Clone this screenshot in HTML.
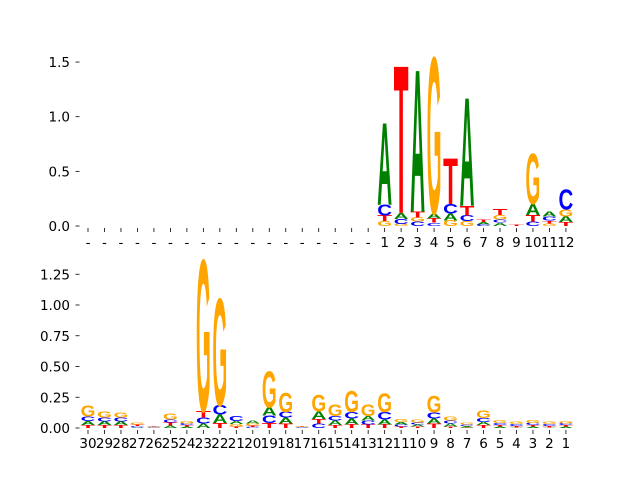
<!DOCTYPE html>
<html><head><meta charset="utf-8"><style>
html,body{margin:0;padding:0;background:#fff}
svg{display:block}
text{font-family:"DejaVu Sans","Liberation Sans",sans-serif}
.tick{font-size:13.5px;fill:#000}
.letter{font-family:"Liberation Sans","DejaVu Sans",sans-serif}
</style></head><body>
<svg id="chart" width="640" height="480" viewBox="0 0 640 480" xmlns="http://www.w3.org/2000/svg">
<g id="top"></g>
<g id="bot"></g>
</svg>
<script>
// Top panel data (positions index 0..29; last 12 labelled 1..12)
const topLabels = ["-","-","-","-","-","-","-","-","-","-","-","-","-","-","-","-","-","-","1","2","3","4","5","6","7","8","9","10","11","12"];
const topA = [0,0,0,0,0,0,0,0,0,0,0,0,0,0,0,0,0,0,0.75,0.055,1.3,0.045,0.065,0.99,0.02,0.03,0,0.1,0.045,0.05];
const topC = [0,0,0,0,0,0,0,0,0,0,0,0,0,0,0,0,0,0,0.1,0.045,0.04,0.03,0.085,0.05,0.015,0.03,0,0.04,0.035,0.18];
const topG = [0,0,0,0,0,0,0,0,0,0,0,0,0,0,0,0,0,0,0.045,0.02,0.04,1.43,0.05,0.045,0,0.04,0,0.46,0.025,0.065];
const topT = [0,0,0,0,0,0,0,0,0,0,0,0,0,0,0,0,0,0,0.05,1.35,0.05,0.04,0.42,0.09,0.02,0.055,0.01,0.06,0.025,0.035];
const topTicks = [0,0.5,1.0,1.5];
const topTickLabels = ["0.0","0.5","1.0","1.5"];
// Bottom panel data (labels 30..1)
const botLabels = ["30","29","28","27","26","25","24","23","22","21","20","19","18","17","16","15","14","13","12","11","10","9","8","7","6","5","4","3","2","1"];
const botA = [0.032,0.03,0.03,0.005,0.006,0.02,0.012,0.036,0.066,0.024,0.024,0.066,0.048,0.004,0.062,0.036,0.048,0.036,0.04,0.019,0.016,0.04,0.024,0.012,0.026,0.012,0.006,0.012,0.006,0.012];
const botC = [0.036,0.03,0.03,0.012,0.004,0.026,0.014,0.048,0.076,0.042,0.01,0.06,0.048,0.004,0.036,0.036,0.054,0.032,0.06,0.016,0.016,0.048,0.024,0.012,0.032,0.016,0.014,0.018,0.014,0.014];
const botG = [0.086,0.048,0.042,0.014,0.004,0.048,0.018,1.23,0.87,0.022,0.014,0.294,0.156,0.004,0.136,0.096,0.174,0.096,0.15,0.024,0.024,0.136,0.032,0.014,0.06,0.024,0.018,0.024,0.018,0.018];
const botT = [0.024,0.024,0.024,0.012,0.004,0.024,0.012,0.054,0.042,0.012,0.012,0.042,0.036,0.004,0.036,0.024,0.03,0.03,0.03,0.012,0.012,0.036,0.012,0.005,0.024,0.012,0.012,0.012,0.012,0.012];
const botTicks = [0,0.25,0.5,0.75,1.0,1.25];
const botTickLabels = ["0.00","0.25","0.50","0.75","1.00","1.25"];

const NS = "http://www.w3.org/2000/svg";
const colors = {A:"#008000",C:"#0000ff",G:"#ffa500",T:"#ff0000"};
const X0 = 88, DX = 16.48, LW = 14.8, CAP = 69.5;

function drawPanel(g, base, pxPerUnit, labels, A, C, G, T, ticks, tickLabels, labelY) {
  const xs = i => X0 + i * DX;
  const ys = v => base - v * pxPerUnit;
  ticks.forEach((t, k) => {
    const y = ys(t);
    const ln = document.createElementNS(NS, "line");
    ln.setAttribute("x1", 75.5); ln.setAttribute("x2", 79.5);
    ln.setAttribute("y1", y); ln.setAttribute("y2", y);
    ln.setAttribute("stroke", "#000"); ln.setAttribute("stroke-width", "0.8");
    
    
    g.appendChild(ln);
    const tx = document.createElementNS(NS, "text");
    tx.setAttribute("x", 70); tx.setAttribute("y", y + 5);
    tx.setAttribute("text-anchor", "end"); tx.setAttribute("class", "tick");
    tx.textContent = tickLabels[k];
    
    
    g.appendChild(tx);
  });
  labels.forEach((lab, i) => {
    const x = xs(i);
    const ln = document.createElementNS(NS, "line");
    ln.setAttribute("x1", x); ln.setAttribute("x2", x);
    ln.setAttribute("y1", base + 2); ln.setAttribute("y2", base + 6);
    ln.setAttribute("stroke", "#000"); ln.setAttribute("stroke-width", "0.8");
    
    
    g.appendChild(ln);
    const tx = document.createElementNS(NS, "text");
    tx.setAttribute("x", x); tx.setAttribute("y", labelY);
    tx.setAttribute("text-anchor", "middle"); tx.setAttribute("class", "tick");
    tx.textContent = lab;
    
    
    g.appendChild(tx);
    const items = [["A", A[i]], ["C", C[i]], ["G", G[i]], ["T", T[i]]].filter(d => d[1] > 0).sort((a, b) => a[1] - b[1]);
    let cum = 0;
    items.forEach(([L, v]) => {
      const yb = ys(cum);
      const hpx = v * pxPerUnit;
      cum += v;
      const t = document.createElementNS(NS, "text");
      t.setAttribute("x", 0); t.setAttribute("y", 0);
      t.setAttribute("font-size", "100");
      t.setAttribute("font-weight", "bold");
      t.setAttribute("class", "letter");
      t.setAttribute("text-anchor", "middle");
      t.setAttribute("textLength", LW);
      t.setAttribute("lengthAdjust", "spacingAndGlyphs");
      t.setAttribute("fill", colors[L]);
      t.setAttribute("transform", "translate(" + x + "," + yb + ") scale(1," + (hpx / CAP) + ")");
      t.textContent = L;
      
      
      g.appendChild(t);
    });
  });
}
drawPanel(document.getElementById("top"), 226, 109.3, topLabels, topA, topC, topG, topT, topTicks, topTickLabels, 247);
drawPanel(document.getElementById("bot"), 428, 123, botLabels, botA, botC, botG, botT, botTicks, botTickLabels, 448);
</script>
</body></html>
